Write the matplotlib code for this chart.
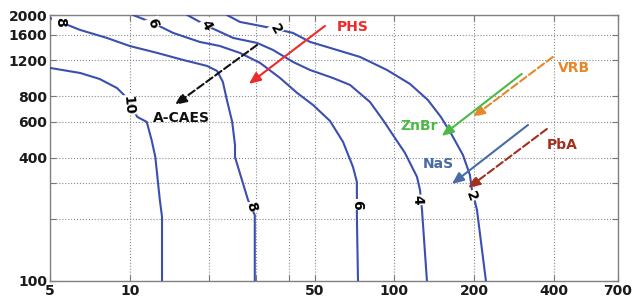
import matplotlib
matplotlib.use("Agg")
import matplotlib.pyplot as plt
from matplotlib.ticker import FixedLocator, FixedFormatter

# ---- data ----
levels = [10, 8, 6, 4, 2]

c10_x = [5, 6.5, 7.7, 8.95, 9.6, 10.0, 10.7, 11.6, 12.1, 12.5, 13.0, 13.25, 13.25]
c10_y = [1102, 1041, 973, 879, 804, 726, 634, 600, 490, 404, 249, 206, 100]

c8_x = [5, 6.5, 8.2, 10.0, 12.7, 15.9, 19.6, 21.4, 22.5, 23.3, 24.4, 25.0, 25.0, 28.0, 29.7, 29.7]
c8_y = [1935, 1690, 1545, 1411, 1305, 1206, 1127, 1065, 941, 768, 600, 463, 404, 249, 210, 100]

c6_x = [10.3, 12.25, 14.6, 18.4, 21.9, 26.1, 31.1, 37.0, 42.9, 49.3, 57.1, 64.0, 69.8, 72.2, 72.2, 72.9]
c6_y = [2000, 1829, 1634, 1477, 1411, 1305, 1166, 984, 832, 726, 607, 479, 361, 305, 206, 100]

c4_x = [16.5, 19.6, 24.6, 30.3, 34.8, 41.4, 48.0, 58.6, 68.0, 80.9, 90.6, 100.5, 109.7, 121.8, 125, 127.2, 132.8]
c4_y = [2000, 1769, 1545, 1460, 1349, 1179, 1077, 984, 910, 751, 613, 501, 423, 323, 279, 223, 100]

c2_x = [23.3, 26.1, 35.7, 41.4, 48.0, 55.7, 74.2, 93.8, 114.6, 133.9, 150, 165, 181.7, 193, 196.5, 205.2, 214.4, 221.9]
c2_y = [2000, 1850, 1710, 1634, 1477, 1395, 1247, 1077, 920, 768, 634, 518, 413, 330, 279, 223, 142, 100]

# contour label positions (x, y) and text
clabel_text = ["8", "6", "4", "2", "10", "8", "6", "4", "2"]
clabel_x = [5.45, 12.25, 19.4, 35.7, 9.9, 28.7, 72.2, 122.8, 194.6]
clabel_y = [1850, 1829, 1788, 1710, 726, 230, 237, 249, 260]
clabel_rot = [-90, -70, -60, -60, -85, -75, -90, -88, -70]

# technologies: arrow tail, head, label position
tech_names = ["A-CAES", "PHS", "VRB", "ZnBr", "NaS", "PbA"]
tail_x = [30.3, 54.7, 397, 303, 320, 377]
tail_y = [1427, 1769, 1247, 1030, 580, 554]
head_x = [14.8, 28.2, 198, 151, 165, 190]
head_y = [726, 920, 634, 512, 298, 285]
label_x = [12.25, 60.7, 415, 105, 128, 377]
label_y = [627, 1749, 1102, 573, 374, 463]
tech_colors = ["#111111", "#ee2b2b", "#e8862a", "#4cb848", "#4a6aa8", "#a3301f"]
tech_dashed = [True, False, True, False, False, True]

xticks = [5, 10, 20, 30, 40, 50, 100, 200, 400, 700]
xtick_labels = ["5", "10", "", "", "", "50", "100", "200", "400", "700"]
yticks = [100, 200, 300, 400, 600, 800, 1200, 1600, 2000]
ytick_labels = ["100", "", "", "400", "600", "800", "1200", "1600", "2000"]

# ---- figure ----
plt.rcParams['font.family'] = ['DejaVu Sans']
fig = plt.figure(figsize=(6.34, 2.98), dpi=100)
ax = fig.add_axes([50/634, 17/298, 568/634, 266/298])
ax.set_xscale('log')
ax.set_yscale('log')
ax.set_xlim(5, 700)
ax.set_ylim(100, 2000)

ax.xaxis.set_major_locator(FixedLocator(xticks))
ax.xaxis.set_major_formatter(FixedFormatter(xtick_labels))
ax.yaxis.set_major_locator(FixedLocator(yticks))
ax.yaxis.set_major_formatter(FixedFormatter(ytick_labels))
ax.xaxis.set_minor_locator(FixedLocator([]))
ax.yaxis.set_minor_locator(FixedLocator([]))
ax.tick_params(which='major', direction='in', length=4, width=0.8, color='#777777',
               top=True, right=True, labelsize=10, pad=2, labelcolor='#1a1a1a')
for lbl in ax.get_xticklabels() + ax.get_yticklabels():
    lbl.set_fontweight('bold')
ax.grid(True, which='major', linestyle=':', color='#8a8a8a', linewidth=0.8)
for s in ax.spines.values():
    s.set_color('#808080')
    s.set_linewidth(1.0)

line_color = '#3a4fb0'
for xs, ys in [(c10_x, c10_y), (c8_x, c8_y), (c6_x, c6_y), (c4_x, c4_y), (c2_x, c2_y)]:
    ax.plot(xs, ys, color=line_color, lw=1.5, zorder=3)

for t, x, y, r in zip(clabel_text, clabel_x, clabel_y, clabel_rot):
    ax.text(x, y, t, rotation=r, ha='center', va='center', fontsize=10,
            fontweight='bold', color='black', zorder=4,
            bbox=dict(facecolor='white', edgecolor='none', pad=0.3))

for name, tx, ty, hx, hy, lx, ly, c, d in zip(tech_names, tail_x, tail_y, head_x, head_y,
                                               label_x, label_y, tech_colors, tech_dashed):
    ax.annotate('', xy=(hx, hy), xytext=(tx, ty),
                arrowprops=dict(arrowstyle='-|>,head_length=0.7,head_width=0.3',
                                color=c, lw=1.5, linestyle='--' if d else '-',
                                shrinkA=0, shrinkB=0), zorder=5)
    ax.text(lx, ly, name, ha='left', va='center', fontsize=10, fontweight='bold',
            color=c, zorder=5)

fig.savefig('out.png', dpi=100)
